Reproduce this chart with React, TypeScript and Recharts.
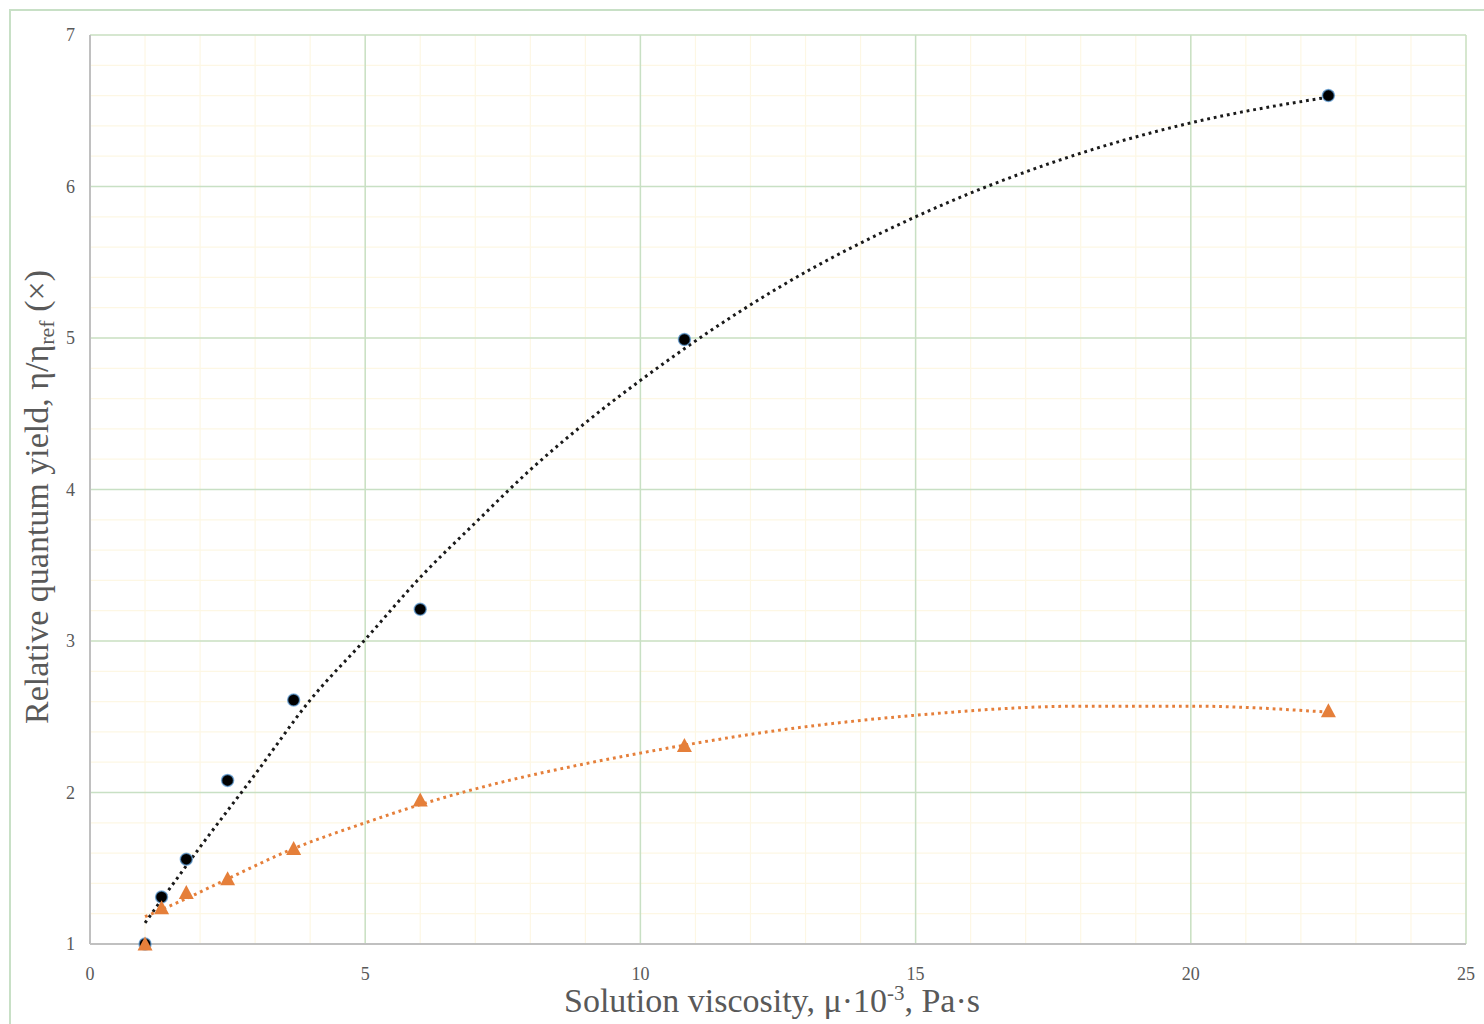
import React from 'react';
import { ComposedChart, Line, Scatter, XAxis, YAxis, CartesianGrid } from 'recharts';

// measured points
const viscosity = [1, 1.3, 1.75, 2.5, 3.7, 6, 10.8, 22.5];
const yieldBlack = [1.0, 1.31, 1.56, 2.08, 2.61, 3.21, 4.99, 6.6];
const yieldOrange = [1.0, 1.24, 1.34, 1.43, 1.63, 1.95, 2.31, 2.54];

// trend lines
const trendBlackX = [1, 2, 3, 4, 5, 6, 7, 8, 9, 10, 12.5, 15, 17.5, 20, 22.5];
const trendBlackY = [1.14, 1.64, 2.12, 2.61, 3.01, 3.42, 3.78, 4.13, 4.44, 4.72, 5.33, 5.8, 6.16, 6.42, 6.59];
const trendOrangeX = [1, 1.75, 2.5, 3.7, 5, 6, 7.5, 9, 10, 12.5, 15, 18, 20, 22.5];
const trendOrangeY = [1.18, 1.3, 1.43, 1.63, 1.8, 1.92, 2.07, 2.19, 2.26, 2.41, 2.51, 2.57, 2.57, 2.53];

const xTicks = [0, 5, 10, 15, 20, 25];
const yTicks = [1, 2, 3, 4, 5, 6, 7];
const xMinor = Array.from({ length: 26 }, (_, i) => i);
const yMinor = Array.from({ length: 31 }, (_, i) => 1 + i * 0.2);

const ORANGE = '#e57f3a';
const TEXT = '#595959';
const FONT = '"Liberation Serif", "Times New Roman", serif';

const zip = (xs: number[], ys: number[]) => xs.map((x, i) => ({ x, y: ys[i] }));
const blackPts = zip(viscosity, yieldBlack);
const orangePts = zip(viscosity, yieldOrange);
const blackTrend = zip(trendBlackX, trendBlackY);
const orangeTrend = zip(trendOrangeX, trendOrangeY);

const Dot = (p: any) => (
  <circle cx={p.cx} cy={p.cy} r={6} fill="#000" stroke="#5b9bd5" strokeOpacity={0.7} strokeWidth={1.5} />
);

const Tri = (p: any) => (
  <polygon
    points={`${p.cx},${p.cy - 7.5} ${p.cx - 7.5},${p.cy + 6.5} ${p.cx + 7.5},${p.cy + 6.5}`}
    fill={ORANGE}
  />
);

export default function App() {
  return (
    <div style={{ position: 'absolute', left: 0, top: 0, width: 1484, height: 1024, overflow: 'hidden', background: '#fff' }}>
      <div
        style={{
          position: 'absolute',
          left: 9,
          top: 9,
          width: 1520,
          height: 1100,
          border: '2px solid #c8e0c6',
        }}
      />
      <div style={{ position: 'absolute', left: 0, top: 0 }}>
        <ComposedChart width={1484} height={1024} margin={{ top: 35, right: 18, bottom: 0, left: 0 }}>
          <CartesianGrid stroke="#fdf7e4" strokeWidth={1.2} horizontalValues={yMinor} verticalValues={xMinor} />
          <CartesianGrid stroke="#c8e0c4" strokeWidth={1.5} horizontalValues={yTicks} verticalValues={xTicks} />
          <XAxis
            type="number"
            dataKey="x"
            domain={[0, 25]}
            ticks={xTicks}
            allowDuplicatedCategory={false}
            height={80}
            tickSize={0}
            tickMargin={23}
            axisLine={{ stroke: '#c0c0c0', strokeWidth: 2 }}
            tick={{ fill: TEXT, fontSize: 18, fontFamily: FONT }}
          />
          <YAxis
            type="number"
            domain={[1, 7]}
            ticks={yTicks}
            width={90}
            tickSize={0}
            tickMargin={15}
            axisLine={{ stroke: '#c0c0c0', strokeWidth: 2 }}
            tick={{ fill: TEXT, fontSize: 18, fontFamily: FONT }}
          />
          <Line
            data={blackTrend}
            dataKey="y"
            type="monotone"
            stroke="#1a1a1a"
            strokeWidth={3}
            strokeDasharray="2.8 3.9"
            dot={false}
            activeDot={false}
            isAnimationActive={false}
          />
          <Line
            data={orangeTrend}
            dataKey="y"
            type="monotone"
            stroke={ORANGE}
            strokeWidth={3}
            strokeDasharray="2.8 3.9"
            dot={false}
            activeDot={false}
            isAnimationActive={false}
          />
          <Scatter data={blackPts} dataKey="y" shape={Dot} isAnimationActive={false} />
          <Scatter data={orangePts} dataKey="y" shape={Tri} isAnimationActive={false} />
        </ComposedChart>
      </div>
      <svg width={1484} height={1024} style={{ position: 'absolute', left: 0, top: 0, pointerEvents: 'none' }}>
        <text x={772} y={1012} textAnchor="middle" fill={TEXT} fontSize={34} fontFamily={FONT}>
          Solution viscosity, μ·10<tspan dy={-12} fontSize={21}>-3</tspan>
          <tspan dy={12}>, Pa·s</tspan>
        </text>
        <text
          x={48}
          y={497}
          transform="rotate(-90 48 497)"
          textAnchor="middle"
          fill={TEXT}
          fontSize={34}
          fontFamily={FONT}
        >
          Relative quantum yield, η/η<tspan dy={6} fontSize={22}>ref</tspan>
          <tspan dy={-6}> (×)</tspan>
        </text>
      </svg>
    </div>
  );
}
